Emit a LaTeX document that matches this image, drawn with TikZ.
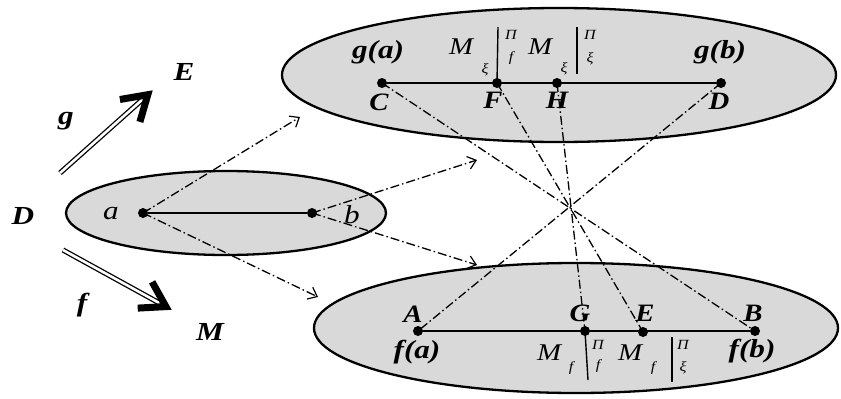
\documentclass[tikz,border=0pt]{standalone}
\usepackage{fontspec}
\setmainfont{Liberation Serif}
\usetikzlibrary{arrows.meta}
\definecolor{ellfill}{HTML}{D9D9D9}
\tikzset{
  ell/.style={draw=black, line width=2.3pt, fill=ellfill},
  seg/.style={line width=2.8pt},
  dot/.style={circle, fill=black, inner sep=0pt, minimum size=10pt},
  big/.style={inner sep=0pt, xscale=1.2, font=\fontsize{26}{28}\selectfont\bfseries\itshape},
  lett/.style={inner sep=0pt, xscale=1.15, font=\fontsize{25}{28}\selectfont\bfseries\itshape},
  lbl/.style={inner sep=0pt, xscale=1.2, font=\fontsize{26}{28}\selectfont\itshape},
  mlbl/.style={inner sep=0pt, xscale=1.2, font=\fontsize{24}{26}\selectfont\itshape},
  tiny/.style={inner sep=0pt, xscale=1.15, font=\fontsize{14}{15}\selectfont\itshape},
  dd/.style={line width=1.3pt, dash pattern=on 9pt off 3pt on 1.5pt off 3pt},
  dda/.style={dd, -{Straight Barb[length=8pt, width=13pt, line width=1.2pt]}},
  dbl/.style={double, double distance=2.6pt, line width=1.3pt},
  chev/.style={line width=7pt, line join=miter, line cap=butt},
  bar/.style={line width=1.4pt}
}
\begin{document}
\begin{tikzpicture}[x=1pt, y=-1pt]
\useasboundingbox (0,0) rectangle (841,399);
% ellipses
\draw[ell] (559,75) ellipse (277 and 67);
\draw[ell] (576,328) ellipse (262 and 65);
\draw[ell] (226,213) ellipse (160 and 42);
% segments and dots
\node[dot] (a) at (143,213) {};
\node[dot] (b) at (312,213) {};
\draw[seg] (a) -- (b);
\node[dot] (C) at (382,83) {};
\node[dot] (F) at (497,83) {};
\node[dot] (H) at (557,83) {};
\node[dot] (Dd) at (721,83) {};
\draw[seg] (C) -- (Dd);
\node[dot] (A) at (418,331) {};
\node[dot] (G) at (585,331) {};
\node[dot] (Ee) at (643,332) {};
\node[dot] (B) at (755,331) {};
\draw[seg] (A) -- (B);
% cross lines
\draw[dd] (C.center) -- (B.center);
\draw[dd] (F.center) -- (Ee.center);
\draw[dd] (H.center) -- (G.center);
\draw[dd] (Dd.center) -- (A.center);
% mapping arrows
\coordinate (t1) at (300,117);
\coordinate (t2) at (318,297);
\coordinate (t3) at (477,160);
\coordinate (t4) at (477,265);
\draw[dda] (a.center) -- (t1);
\draw[dda] (a.center) -- (t2);
\draw[dda] (b.center) -- (t3);
\draw[dda] (b.center) -- (t4);
% double arrows
\coordinate (gs) at (60,173);
\coordinate (ge) at (145.6,96.7);
\coordinate (fs) at (63,250);
\coordinate (fe) at (163.3,305.2);
\draw[dbl] (gs) -- (ge);
\draw[dbl] (fs) -- (fe);
\coordinate (gt) at (147.8,94.7);
\coordinate (ga1) at (119.9,99.5);
\coordinate (ga2) at (139.9,121.9);
\draw[chev] (ga1) -- (gt) -- (ga2);
\coordinate (ft) at (165.9,306.6);
\coordinate (fa1) at (137.7,308.1);
\coordinate (fa2) at (152.1,281.9);
\draw[chev] (fa1) -- (ft) -- (fa2);
% labels left
\node[big] (lD) at (23,216) {D};
\node[big] (lE) at (184,72) {E};
\node[big] (lg) at (66,121) {g};
\node[big] (lf) at (82,305) {f};
\node[big] (lM) at (210,332) {M};
\node[lbl] (la) at (111,214) {a};
\node[lbl] (lb) at (352,215) {b};
% top labels
\node[big] (lga) at (378,52) {g(a)};
\node[big] (lgb) at (720,52) {g(b)};
\node[lett] (lC) at (379,102) {C};
\node[lett] (lF) at (493,100) {F};
\node[lett] (lH) at (557,100) {H};
\node[lett] (lDD) at (719,101) {D};
% bottom labels
\node[lett] (lA) at (413,314) {A};
\node[lett] (lG) at (580,313) {G};
\node[lett] (lEE) at (645,313) {E};
\node[lett] (lB) at (753,313) {B};
\node[big] (lfa) at (417,352) {f(a)};
\node[big] (lfb) at (752,351) {f(b)};
% M labels top
\node[mlbl] (m1) at (461,47) {M};
\node[tiny] (m1s) at (485,70) {ξ};
\node[tiny] (m1u) at (511,35) {Π};
\node[tiny] (m1d) at (511,58) {f};
\node[mlbl] (m2) at (540,47) {M};
\node[tiny] (m2s) at (564,69) {ξ};
\node[tiny] (m2u) at (590,35) {Π};
\node[tiny] (m2d) at (590,59) {ξ};
\coordinate (b1t) at (498,27);
\coordinate (b2t) at (577,27);
\coordinate (b2b) at (577,74);
\draw[bar] (b1t) -- (F.center);
\draw[bar] (b2t) -- (b2b);
% M labels bottom
\node[mlbl] (m3) at (549,353) {M};
\node[tiny] (m3s) at (571,368) {f};
\node[tiny] (m3u) at (598,345) {Π};
\node[tiny] (m3d) at (598,366) {f};
\node[mlbl] (m4) at (630,353) {M};
\node[tiny] (m4s) at (653,368) {f};
\node[tiny] (m4u) at (683,345) {Π};
\node[tiny] (m4d) at (683,368) {ξ};
\coordinate (b3b) at (588,380);
\coordinate (b4t) at (672,337);
\coordinate (b4b) at (672,382);
\draw[bar] (G.center) -- (b3b);
\draw[bar] (b4t) -- (b4b);
\end{tikzpicture}
\end{document}
